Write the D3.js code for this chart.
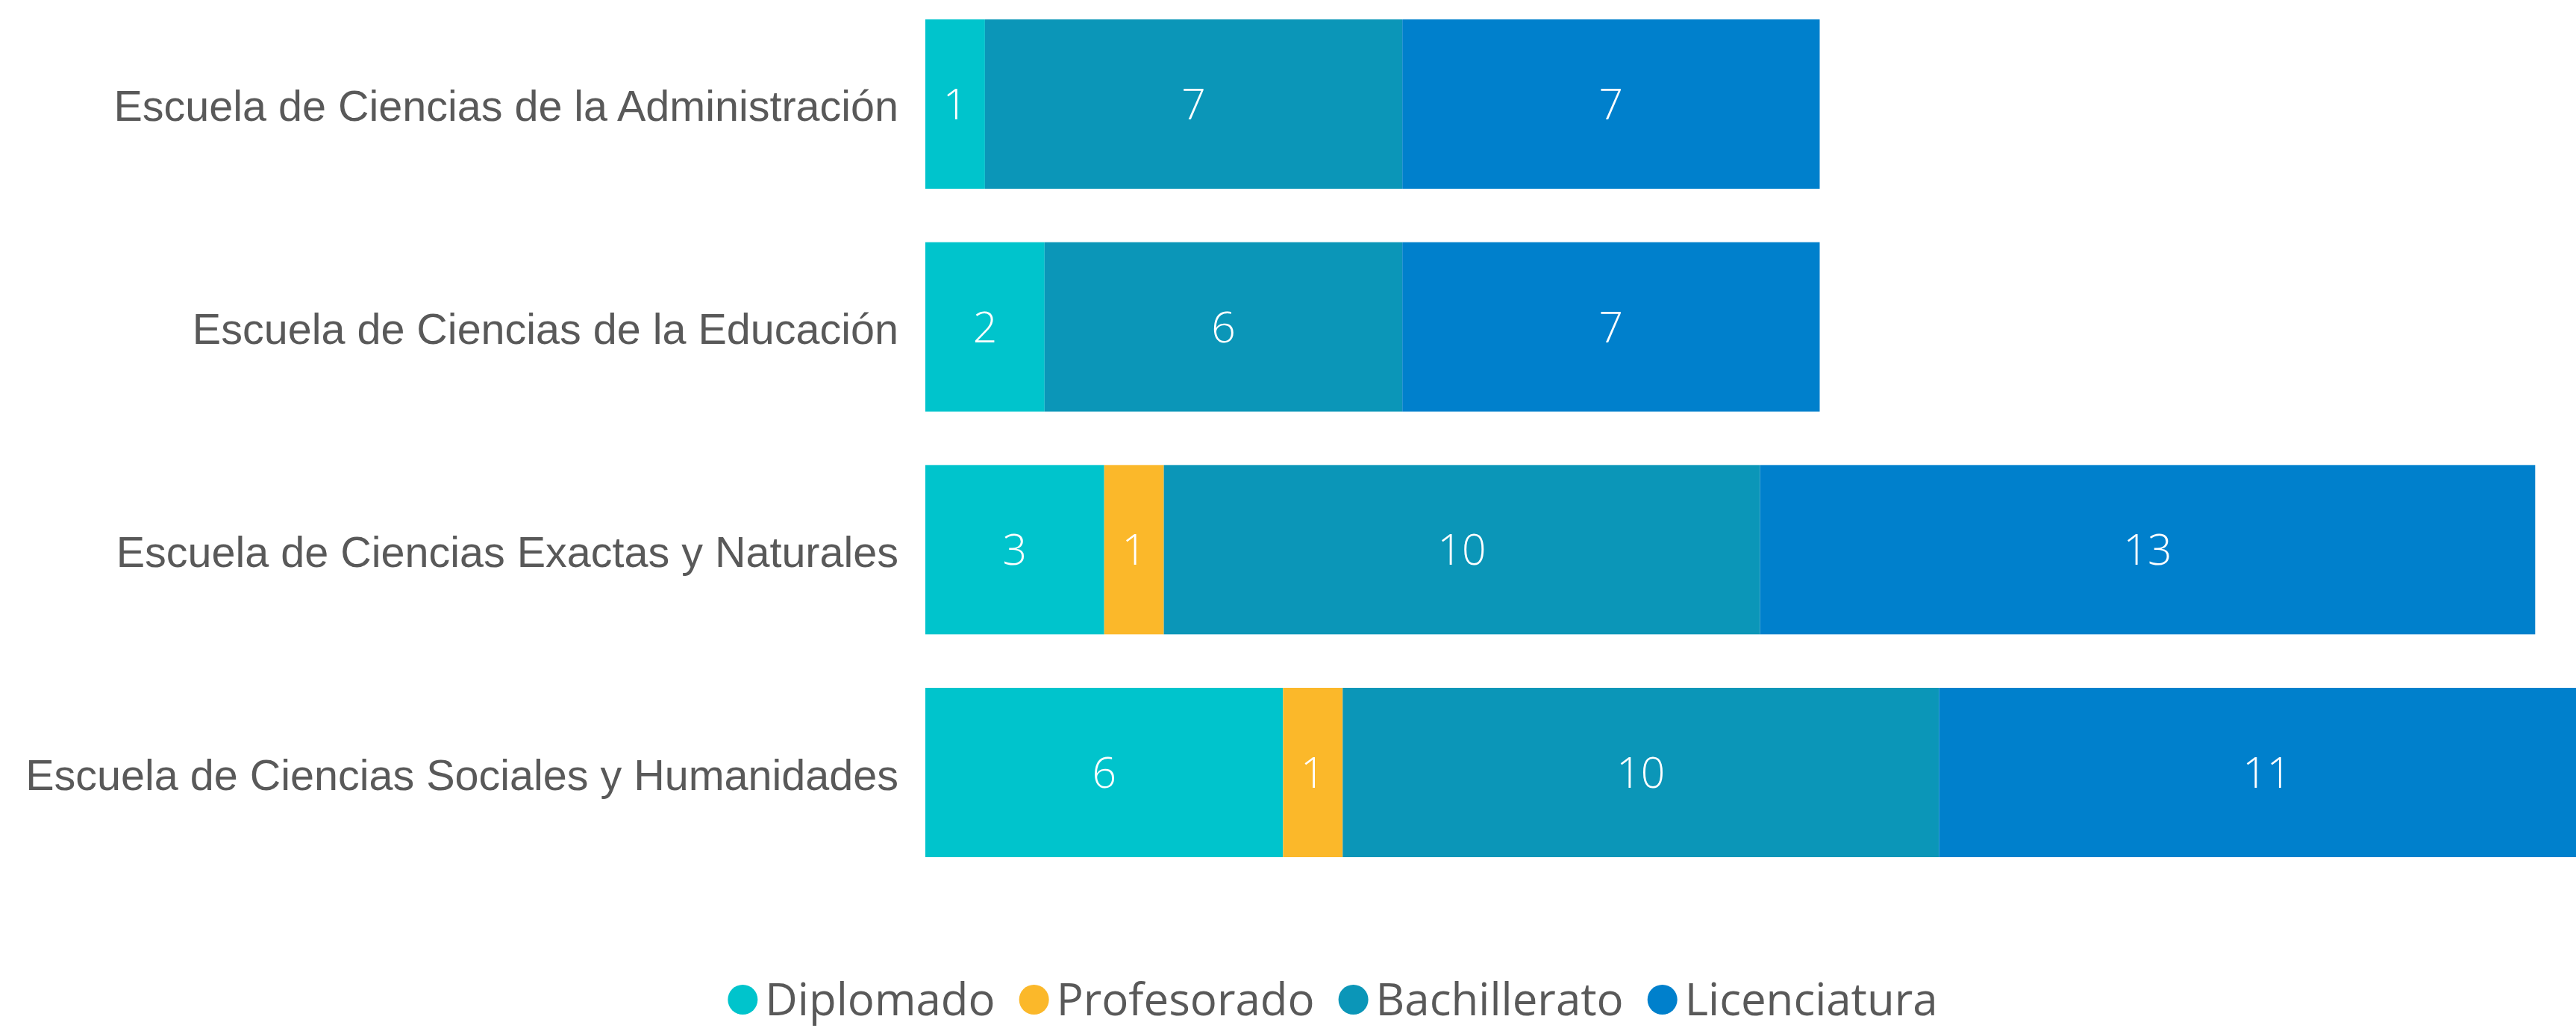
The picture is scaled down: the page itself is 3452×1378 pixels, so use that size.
<!DOCTYPE html>
<html>
<head>
<meta charset="utf-8">
<script src="https://cdn.jsdelivr.net/npm/d3@7"></script>
<style>
  html, body { margin: 0; padding: 0; background: #fff; overflow: hidden; }
  svg { display: block; }
</style>
</head>
<body>
<svg id="chart" width="3452" height="1378"></svg>
<script>
const categories = [
  "Escuela de Ciencias de la Administración",
  "Escuela de Ciencias de la Educación",
  "Escuela de Ciencias Exactas y Naturales",
  "Escuela de Ciencias Sociales y Humanidades"
];
const seriesNames = ["Diplomado", "Profesorado", "Bachillerato", "Licenciatura"];
const diplomado    = [1, 2, 3, 6];
const profesorado  = [0, 0, 1, 1];
const bachillerato = [7, 6, 10, 10];
const licenciatura = [7, 7, 13, 11];
const colors = ["#00C4CC", "#FBB82A", "#0B96B8", "#0080CC"];

const svg = d3.select("#chart");

const rows = categories.map((c, i) => ({
  cat: c,
  Diplomado: diplomado[i],
  Profesorado: profesorado[i],
  Bachillerato: bachillerato[i],
  Licenciatura: licenciatura[i]
}));

const stack = d3.stack().keys(seriesNames)(rows);

const x = d3.scaleLinear().domain([0, 28]).range([1240, 1240 + 28 * 79.9]);
const y = d3.scaleBand().domain(categories).range([26, 1149]).paddingInner(0.24).paddingOuter(0);
const color = d3.scaleOrdinal().domain(seriesNames).range(colors);

const layers = svg.append("g").selectAll("g")
  .data(stack).join("g")
  .attr("fill", d => color(d.key));

layers.selectAll("rect")
  .data(d => d.map(v => ({ v, key: d.key })))
  .join("rect")
  .attr("x", d => x(d.v[0]))
  .attr("y", d => y(d.v.data.cat))
  .attr("width", d => x(d.v[1]) - x(d.v[0]))
  .attr("height", y.bandwidth());

// value labels
layers.selectAll("text")
  .data(d => d.map(v => ({ v, key: d.key })).filter(d => d.v[1] - d.v[0] > 0))
  .join("text")
  .attr("x", d => (x(d.v[0]) + x(d.v[1])) / 2)
  .attr("y", d => y(d.v.data.cat) + y.bandwidth() / 2)
  .attr("dy", "0.36em")
  .attr("text-anchor", "middle")
  .attr("fill", "#ffffff")
  .attr("font-family", "'Open Sans', 'Liberation Sans', sans-serif")
  .attr("font-weight", 300)
  .attr("font-size", 57)
  .text(d => d.v[1] - d.v[0]);

// category axis
const yAxis = d3.axisLeft(y).tickSize(0).tickPadding(36);
const ga = svg.append("g").attr("transform", `translate(${x(0)},0)`).call(yAxis);
ga.select(".domain").remove();
ga.selectAll("text")
  .attr("fill", "#595959")
  .attr("font-family", "'Liberation Sans', Arial, sans-serif")
  .attr("font-size", 57.5)
  .attr("dy", "0.40em");

// legend
const legend = svg.append("g");
const items = legend.selectAll("g").data(seriesNames).join("g");
items.append("circle").attr("r", 20).attr("fill", d => color(d));
items.append("text")
  .attr("x", 30)
  .attr("y", 21)
  .attr("fill", "#595959")
  .attr("font-family", "'Open Sans', 'Noto Sans', sans-serif")
  .attr("font-size", 60)
  .text(d => d);
let cx = 0;
items.each(function() {
  const g = d3.select(this);
  g.attr("transform", `translate(${cx},0)`);
  const tw = g.select("text").node().getComputedTextLength();
  cx += 20 + 30 + tw + 12 + 20;
});
const totalW = cx - 12 - 20;
const legendCenter = 1786;
legend.attr("transform", `translate(${legendCenter - totalW / 2 + 20},1340)`);
</script>
</body>
</html>
